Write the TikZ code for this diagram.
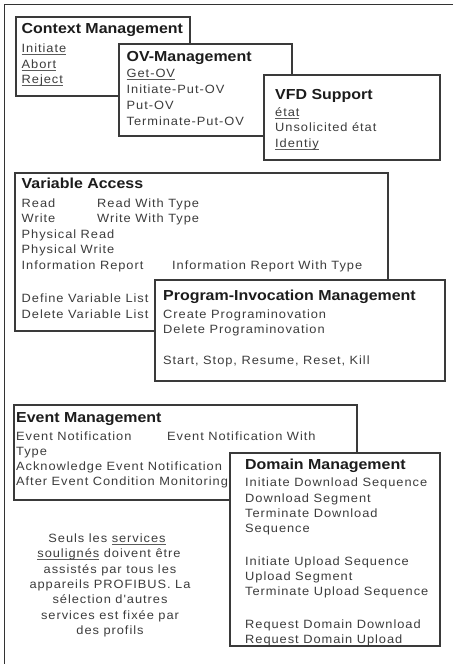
\documentclass[tikz,border=0pt]{standalone}
\usepackage{fontspec}
\setmainfont{Liberation Sans}
\newfontfamily\spacedfont[LetterSpace=8,FakeStretch=1.07]{Liberation Sans}
\newfontfamily\headfont[FakeStretch=1.1]{Liberation Sans}

\definecolor{framecol}{HTML}{333333}
\definecolor{boxcol}{HTML}{3A3A3A}
\definecolor{textcol}{HTML}{3C3C3C}
\definecolor{titlecol}{HTML}{1C1C1C}
\definecolor{rulecol}{HTML}{5A5A5A}

% underline drawn a little below the baseline, independent of descenders
\newcommand\ulsvc[1]{\setbox0\hbox{#1}\rlap{\raisebox{-2.4pt}{\textcolor{rulecol}{\rule{\wd0}{0.7pt}}}}\box0\relax}

\tikzset{
  panel/.style={draw=boxcol, line width=1.2pt, fill=white},
  title/.style={anchor=base west, inner sep=0pt, text=titlecol,
                font=\fontsize{14.5}{18}\headfont\bfseries},
  item/.style={anchor=base west, inner sep=0pt, text=textcol,
               font=\fontsize{12}{15}\spacedfont},
  note/.style={anchor=base, inner sep=0pt, text=textcol,
               font=\fontsize{12}{15}\spacedfont},
}

\begin{document}
\begin{tikzpicture}[x=1pt,y=-1pt]
\useasboundingbox (0,0) rectangle (453,664);
\fill[white] (0,0) rectangle (453,664);

% outer frame (top and left edges)
\draw[framecol, line width=1.4pt] (453,4.5) -- (4.5,4.5) -- (4.5,664);

% ---- Context Management
\path[panel] (16,17) rectangle (190,96);
\node[title] (cmT) at (21.5,33) {Context Management};
\node[item] (cm1) at (21.5,52) {\ulsvc{Initiate}};
\node[item] (cm2) at (21.5,68) {\ulsvc{Abort}};
\node[item] (cm3) at (21.5,83) {\ulsvc{Reject}};

% ---- OV-Management
\path[panel] (119,44) rectangle (292,136);
\node[title] (ovT) at (126.5,61) {OV-Management};
\node[item] (ov1) at (126.5,77) {\ulsvc{Get-OV}};
\node[item] (ov2) at (126.5,93) {Initiate-Put-OV};
\node[item] (ov3) at (126.5,109) {Put-OV};
\node[item] (ov4) at (126.5,125) {Terminate-Put-OV};

% ---- VFD Support
\path[panel] (264,75) rectangle (440,160);
\node[title] (vfT) at (275,99) {VFD Support};
\node[item] (vf1) at (275,116) {\ulsvc{état}};
\node[item] (vf2) at (275,131) {Unsolicited état};
\node[item] (vf3) at (275,147) {\ulsvc{Identiy}};

% ---- Variable Access
\path[panel] (15,173) rectangle (388,331);
\node[title] (vaT) at (21.5,188) {Variable Access};
\node[item] (va1) at (21.5,207) {Read};
\node[item] (va1b) at (97,207) {Read With Type};
\node[item] (va2) at (21.5,222) {Write};
\node[item] (va2b) at (97,222) {Write With Type};
\node[item] (va3) at (21.5,238) {Physical Read};
\node[item] (va4) at (21.5,253) {Physical Write};
\node[item] (va5) at (21.5,269) {Information Report};
\node[item] (va5b) at (172,269) {Information Report With Type};
\node[item] (va6) at (21.5,302) {Define Variable List};
\node[item] (va7) at (21.5,318) {Delete Variable List};

% ---- Program-Invocation Management
\path[panel] (155,280) rectangle (445,381);
\node[title] (piT) at (163,300) {Program-Invocation Management};
\node[item] (pi1) at (163,318) {Create Programinovation};
\node[item] (pi2) at (163,333) {Delete Programinovation};
\node[item] (pi3) at (163,364) {Start, Stop, Resume, Reset, Kill};

% ---- Event Management
\path[panel] (14,405) rectangle (357,500);
\node[title] (evT) at (16,422) {Event Management};
\node[item] (ev1) at (16,440) {Event Notification};
\node[item] (ev1b) at (167,440) {Event Notification With};
\node[item] (ev2) at (16,455) {Type};
\node[item] (ev3) at (16,470) {Acknowledge Event Notification};
\node[item] (ev4) at (16,485) {After Event Condition Monitoring};

% ---- Domain Management
\path[panel] (230,453) rectangle (440,646);
\node[title] (dmT) at (245,469) {Domain Management};
\node[item] (dm1) at (245,486) {Initiate Download Sequence};
\node[item] (dm2) at (245,502) {Download Segment};
\node[item] (dm3) at (245,517) {Terminate Download};
\node[item] (dm4) at (245,532) {Sequence};
\node[item] (dm5) at (245,565) {Initiate Upload Sequence};
\node[item] (dm6) at (245,580) {Upload Segment};
\node[item] (dm7) at (245,595) {Terminate Upload Sequence};
\node[item] (dm8) at (245,628) {Request Domain Download};
\node[item] (dm9) at (245,643) {Request Domain Upload};

% ---- explanatory note
\node[note] (n1) at (107,542) {Seuls les \ulsvc{services}};
\node[note] (n2) at (109,557) {\ulsvc{soulignés} doivent être};
\node[note] (n3) at (110,573) {assistés par tous les};
\node[note] (n4) at (110,588) {appareils PROFIBUS. La};
\node[note] (n5) at (110,603) {sélection d'autres};
\node[note] (n6) at (110,619) {services est fixée par};
\node[note] (n7) at (110,634) {des profils};
\end{tikzpicture}
\end{document}
